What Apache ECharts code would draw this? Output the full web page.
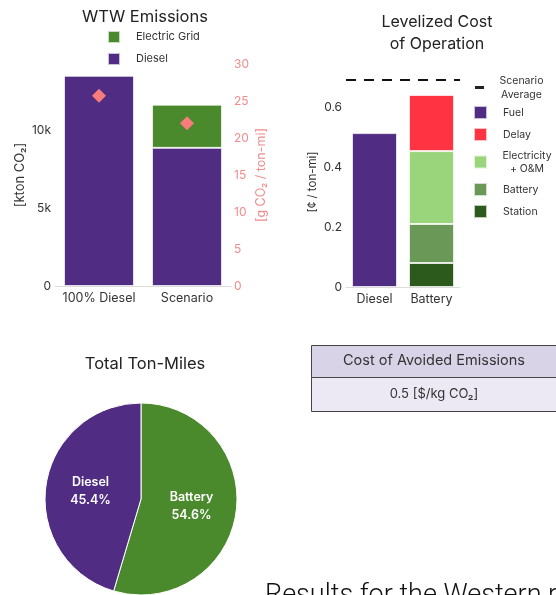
<!DOCTYPE html>
<html>
<head>
<meta charset="utf-8">
<script src="https://cdn.jsdelivr.net/npm/echarts@6/dist/echarts.min.js"></script>
<style>
  html, body { margin: 0; padding: 0; background: #fff; }
  #chart { width: 556px; height: 595px; }
</style>
</head>
<body>
<div id="chart"></div>
<script>
// Well-to-wheel emissions
const emissionCategories = ['100% Diesel', 'Scenario'];
const dieselEmissions = [13550, 8900];      // kton CO2
const gridEmissions = [0, 2780];            // kton CO2
const emissionIntensity = [25.7, 22.0];     // g CO2 / ton-mi

// Levelized cost of operation (cents / ton-mi)
const costCategories = ['Diesel', 'Battery'];
const fuelCost = [0.513, null];
const stationCost = [null, 0.08];
const batteryCost = [null, 0.13];
const electricityCost = [null, 0.243];
const delayCost = [null, 0.187];
const scenarioAverageCost = 0.693;

// Share of total ton-miles (%)
const tonMileNames = ['Battery', 'Diesel'];
const tonMileShares = [54.6, 45.4];

// Cost of avoided emissions
const avoidedCostHeader = 'Cost of Avoided Emissions';
const avoidedCostValue = '0.5 [$/kg CO\u2082]';

const FONT = 'Inter';
const PURPLE = '#502d82';
const GREEN = '#4b8a2c';
const SALMON = '#f87c7c';
const AXIS_SALMON = '#f28b8b';

const chart = echarts.init(document.getElementById('chart'));

const segBorder = { borderColor: 'rgba(255,255,255,0.7)', borderWidth: 1 };

const option = {
  animation: false,
  textStyle: { fontFamily: FONT },
  title: [
    { text: 'WTW Emissions', left: 140, top: 4, textAlign: 'center',
      textStyle: { fontFamily: FONT, fontSize: 16.5, fontWeight: 'normal', color: '#222' } },
    { text: 'Levelized Cost\nof Operation', left: 432, top: 6, textAlign: 'center',
      textStyle: { fontFamily: FONT, fontSize: 16, fontWeight: 'normal', color: '#222', lineHeight: 22, align: 'center' } },
    { text: 'Total Ton-Miles', left: 140, top: 351, textAlign: 'center',
      textStyle: { fontFamily: FONT, fontSize: 16.5, fontWeight: 'normal', color: '#222' } }
  ],
  legend: [
    { // emissions legend
      data: ['Electric Grid', 'Diesel'],
      orient: 'vertical', left: 102, top: 25,
      icon: 'rect', itemWidth: 12, itemHeight: 12, itemGap: 8,
      textStyle: { fontFamily: FONT, fontSize: 11, color: '#333', padding: [0, 0, 0, 11] }
    },
    { // scenario average legend
      data: [{ name: 'Scenario Average', icon: 'rect', itemStyle: { color: '#222' } }],
      orient: 'vertical', left: 470, top: 70,
      itemWidth: 9, itemHeight: 3,
      formatter: () => '{c|Scenario}\n{c|Average}',
      textStyle: { fontFamily: FONT, fontSize: 10.5, color: '#333', padding: [0, 0, 0, 9],
        rich: { c: { fontFamily: FONT, fontSize: 10.5, color: '#333', width: 47, align: 'center', lineHeight: 14 } } }
    },
    { // cost component legend
      data: ['Fuel', 'Delay', 'Electricity + O&M', 'Battery', 'Station'],
      orient: 'vertical', left: 468, top: 100,
      icon: 'rect', itemWidth: 13, itemHeight: 13, itemGap: 7,
      formatter: name => name === 'Electricity + O&M' ? '{c|Electricity}\n{c|+ O&M}' : name,
      textStyle: { fontFamily: FONT, fontSize: 10.5, color: '#333', lineHeight: 13, padding: [0, 0, 0, 11],
        rich: { c: { fontFamily: FONT, fontSize: 10.5, color: '#333', width: 48, align: 'center', lineHeight: 13 } } }
    }
  ],
  grid: [
    { left: 55, width: 176, top: 64, height: 222 },
    { left: 346, width: 114, top: 77, height: 210 }
  ],
  xAxis: [
    { type: 'category', gridIndex: 0, data: emissionCategories,
      axisLine: { lineStyle: { color: '#dcdcdc' } }, axisTick: { show: false },
      axisLabel: { fontFamily: FONT, fontSize: 12.5, color: '#333', margin: 6, interval: 0 } },
    { type: 'category', gridIndex: 1, data: costCategories,
      axisLine: { lineStyle: { color: '#dcdcdc' } }, axisTick: { show: false },
      axisLabel: { fontFamily: FONT, fontSize: 12.5, color: '#333', margin: 6, interval: 0 } }
  ],
  yAxis: [
    { type: 'value', gridIndex: 0, min: 0, max: 14300, interval: 5000,
      name: '[kton CO\u2082]', nameLocation: 'middle', nameRotate: 90, nameGap: 28,
      nameTextStyle: { fontFamily: FONT, fontSize: 13, color: '#333' },
      axisLine: { show: false }, axisTick: { show: false }, splitLine: { show: false },
      axisLabel: { fontFamily: FONT, fontSize: 12, color: '#333', margin: 4, showMaxLabel: false,
        formatter: v => v === 0 ? '0' : (v / 1000) + 'k' } },
    { type: 'value', gridIndex: 0, position: 'right', min: 0, max: 30, interval: 5,
      name: '[g CO\u2082 / ton-mi]', nameLocation: 'middle', nameRotate: 90, nameGap: 24,
      nameTextStyle: { fontFamily: FONT, fontSize: 12.5, color: AXIS_SALMON },
      axisLine: { show: false }, axisTick: { show: false }, splitLine: { show: false },
      axisLabel: { fontFamily: FONT, fontSize: 12, color: AXIS_SALMON, margin: 3 } },
    { type: 'value', gridIndex: 1, min: 0, max: 0.7, interval: 0.2,
      name: '[\u00a2 / ton-mi]', nameLocation: 'middle', nameRotate: 90, nameGap: 27,
      nameTextStyle: { fontFamily: FONT, fontSize: 11.5, color: '#333' },
      axisLine: { show: false }, axisTick: { show: false }, splitLine: { show: false },
      axisLabel: { fontFamily: FONT, fontSize: 12, color: '#333', margin: 4, showMaxLabel: false,
        formatter: v => v === 0 ? '0' : v.toFixed(1) } }
  ],
  series: [
    { name: 'Diesel', type: 'bar', xAxisIndex: 0, yAxisIndex: 0, stack: 'wtw',
      barWidth: 70, data: dieselEmissions, itemStyle: Object.assign({ color: PURPLE }, segBorder) },
    { name: 'Electric Grid', type: 'bar', xAxisIndex: 0, yAxisIndex: 0, stack: 'wtw',
      barWidth: 70, data: gridEmissions, itemStyle: Object.assign({ color: GREEN }, segBorder) },
    { name: 'Intensity', type: 'scatter', xAxisIndex: 0, yAxisIndex: 1,
      symbol: 'diamond', symbolSize: 14, data: emissionIntensity,
      itemStyle: { color: SALMON, opacity: 1 }, z: 5 },

    { name: 'Fuel', type: 'bar', xAxisIndex: 1, yAxisIndex: 2, stack: 'cost',
      barWidth: 45, data: fuelCost, itemStyle: Object.assign({ color: PURPLE }, segBorder) },
    { name: 'Station', type: 'bar', xAxisIndex: 1, yAxisIndex: 2, stack: 'cost',
      barWidth: 45, data: stationCost, itemStyle: Object.assign({ color: '#2b5a1c' }, segBorder) },
    { name: 'Battery', type: 'bar', xAxisIndex: 1, yAxisIndex: 2, stack: 'cost',
      barWidth: 45, data: batteryCost, itemStyle: Object.assign({ color: '#6a9957' }, segBorder) },
    { name: 'Electricity + O&M', type: 'bar', xAxisIndex: 1, yAxisIndex: 2, stack: 'cost',
      barWidth: 45, data: electricityCost, itemStyle: Object.assign({ color: '#9ad57c' }, segBorder) },
    { name: 'Delay', type: 'bar', xAxisIndex: 1, yAxisIndex: 2, stack: 'cost',
      barWidth: 45, data: delayCost, itemStyle: Object.assign({ color: '#ff3341' }, segBorder) },
    { name: 'Scenario Average', type: 'line', xAxisIndex: 1, yAxisIndex: 2,
      data: [], symbol: 'none', itemStyle: { color: '#222' },
      lineStyle: { color: '#222', width: 2.5 },
      markLine: { silent: true, symbol: ['none', 'none'], label: { show: false },
        lineStyle: { color: '#111', width: 2, type: [10, 8] },
        data: [{ yAxis: scenarioAverageCost }] } },

    { name: 'Total Ton-Miles', type: 'pie', center: [141, 499], radius: 96,
      startAngle: 90, clockwise: true,
      itemStyle: { borderColor: '#fff', borderWidth: 1 },
      label: { position: 'inside', color: '#fff', fontFamily: FONT, fontSize: 12.5, fontWeight: 600,
        lineHeight: 18, formatter: p => p.name + '\n' + p.value.toFixed(1) + '%' },
      labelLine: { show: false },
      data: tonMileNames.map((n, i) => ({ name: n, value: tonMileShares[i],
        itemStyle: { color: n === 'Battery' ? GREEN : PURPLE } })) }
  ],
  graphic: [
    { type: 'rect', shape: { x: 311.5, y: 345.5, width: 250, height: 32 },
      style: { fill: '#d9d3e7', stroke: '#444', lineWidth: 1 } },
    { type: 'rect', shape: { x: 311.5, y: 377.5, width: 250, height: 34 },
      style: { fill: '#ece8f4', stroke: '#444', lineWidth: 1 } },
    { type: 'text', x: 434, y: 361,
      style: { text: avoidedCostHeader, fill: '#333', font: '14.5px Inter', align: 'center', verticalAlign: 'middle' } },
    { type: 'text', x: 434, y: 394,
      style: { text: avoidedCostValue, fill: '#333', font: '13px Inter', align: 'center', verticalAlign: 'middle' } },
    { type: 'text', x: 265, y: 596,
      style: { text: 'Results for the Western region', fill: '#111', font: '300 27px Roboto', align: 'left', verticalAlign: 'middle' } }
  ]
};

chart.setOption(option);
</script>
</body>
</html>
